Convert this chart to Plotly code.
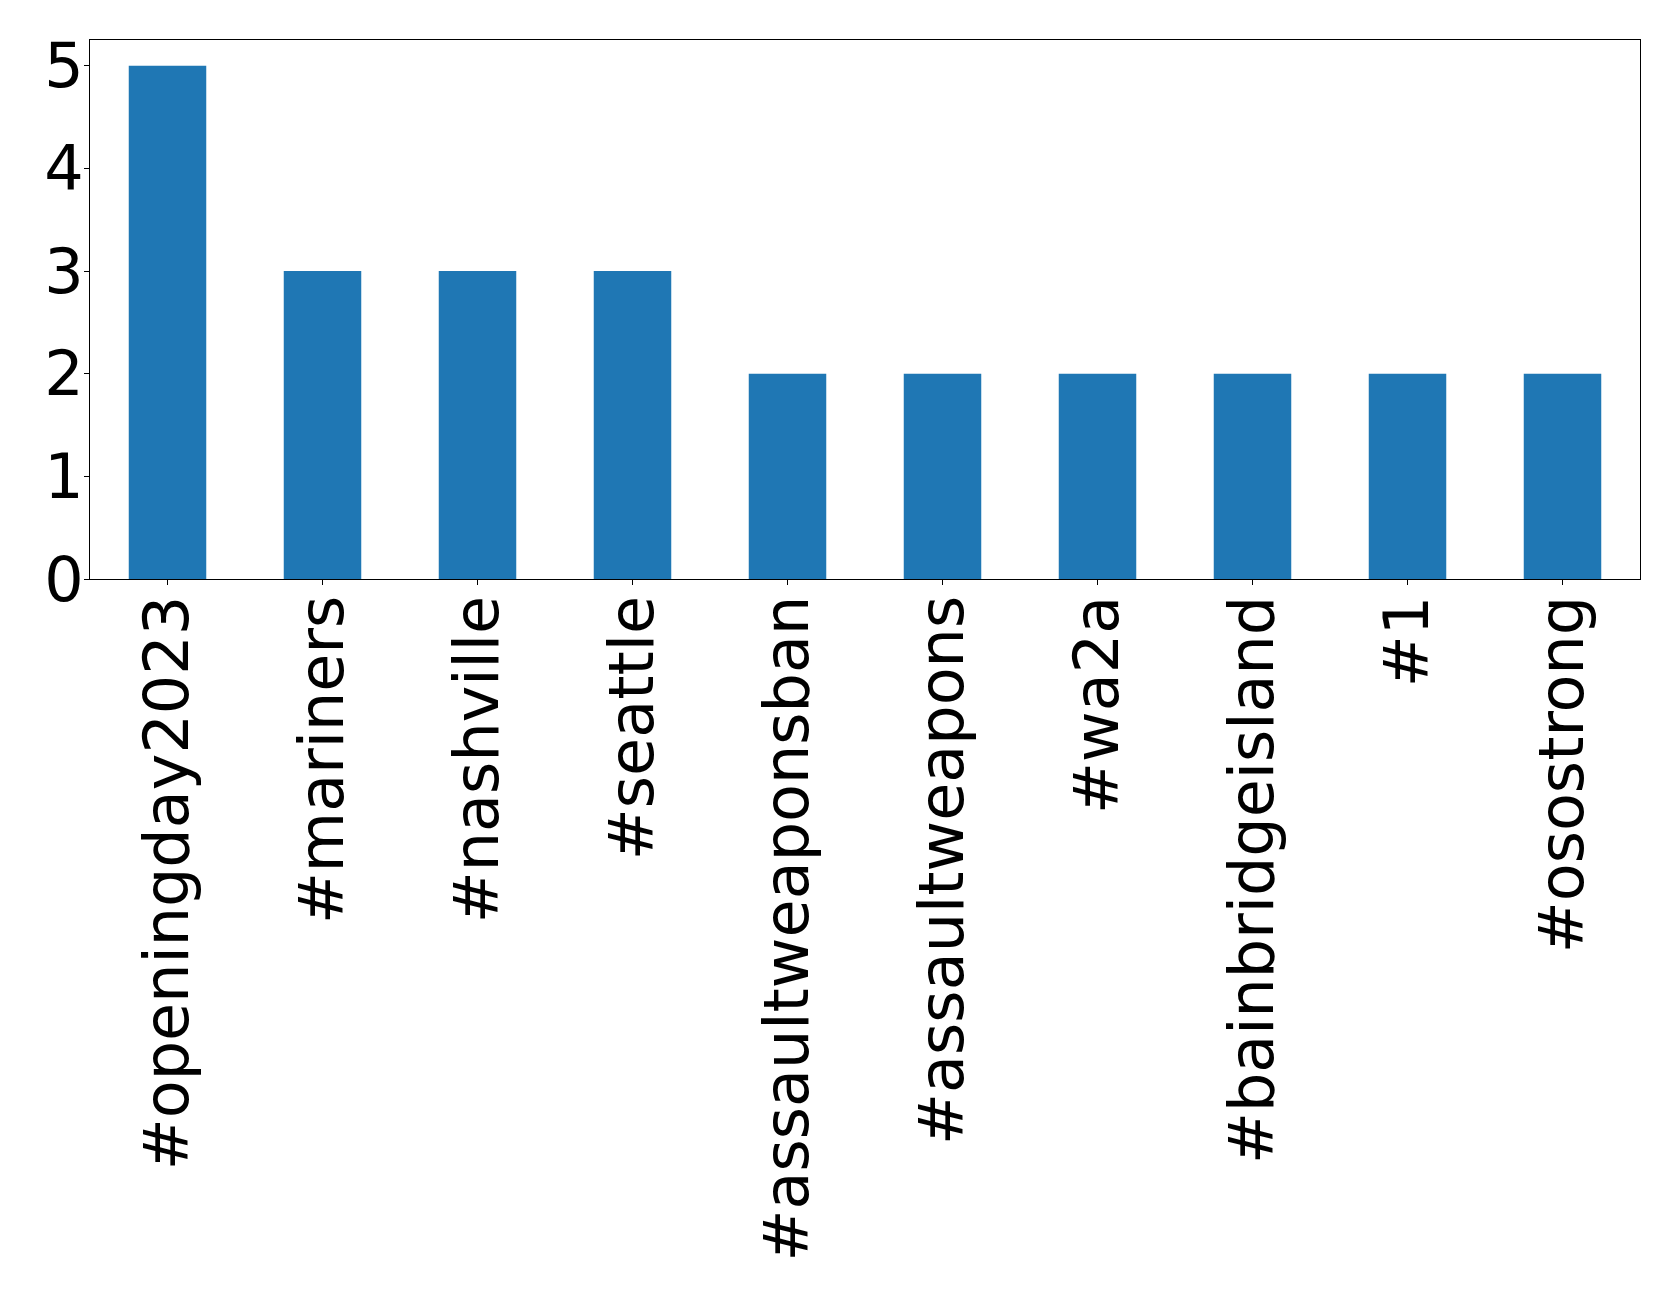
import plotly.graph_objects as go

categories = ["#openingday2023", "#mariners", "#nashville", "#seattle",
              "#assaultweaponsban", "#assaultweapons", "#wa2a",
              "#bainbridgeisland", "#1", "#osostrong"]
counts = [5, 3, 3, 3, 2, 2, 2, 2, 2, 2]
y_ticks = [0, 1, 2, 3, 4, 5]

fig = go.Figure(go.Bar(x=categories, y=counts, marker_color="#1f77b4",
                       marker_line_width=0, width=0.5))

# page has an 8px body margin, so the figure is offset by 8px
fig.update_layout(
    width=1671, height=1291,
    margin=dict(l=82, r=39, t=32, b=720),
    paper_bgcolor="white", plot_bgcolor="white",
    font=dict(family="DejaVu Sans", size=62, color="black"),
    showlegend=False,
    bargap=0.5,
)
fig.update_xaxes(
    type="category", range=[-0.5, 9.5], tickangle=-90,
    showline=True, linecolor="black", linewidth=1, mirror=True,
    ticks="outside", ticklen=5, tickcolor="black", showgrid=False,
    ticklabelstandoff=-14, automargin=False,
)
fig.update_yaxes(
    range=[0, 5.25], tickvals=y_ticks,
    showline=True, linecolor="black", linewidth=1, mirror=True,
    ticks="outside", ticklen=5, tickcolor="black", showgrid=False,
    zeroline=False, ticklabelstandoff=-12, automargin=False,
)

fig.write_html("out.html")
